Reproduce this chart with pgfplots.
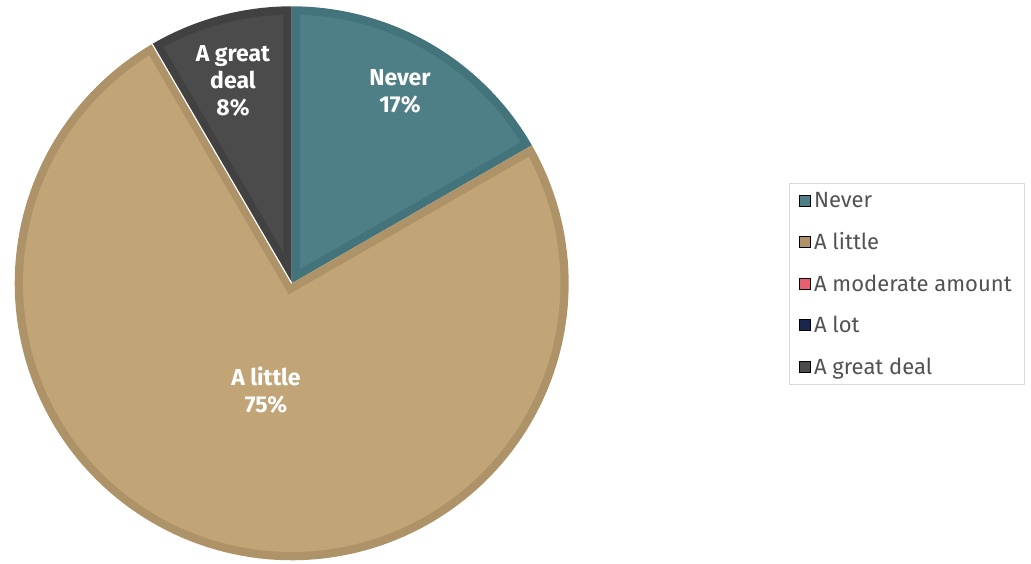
\documentclass[border=0pt]{standalone}
\usepackage{pgfplots}
\pgfplotsset{compat=1.18}
\usepackage{pgfplotstable}
\usepgfplotslibrary{polar}
\usepackage{fontspec}
\setmainfont{Fira Sans}
\definecolor{neverF}{HTML}{4E7F87}
\definecolor{neverB}{HTML}{44747B}
\definecolor{littleF}{HTML}{C1A577}
\definecolor{littleB}{HTML}{AD9367}
\definecolor{modF}{HTML}{E8606F}
\definecolor{lotF}{HTML}{1A2550}
\definecolor{greatF}{HTML}{4B4B4B}
\definecolor{greatB}{HTML}{414141}
\definecolor{legframe}{HTML}{D9D9D9}

\pgfplotstableread{
value
16.7
74.9
0
0
8.4
}\piedata

\pgfplotstablegetelem{0}{value}\of\piedata \let\vA\pgfplotsretval
\pgfplotstablegetelem{1}{value}\of\piedata \let\vB\pgfplotsretval
\pgfplotstablegetelem{2}{value}\of\piedata \let\vC\pgfplotsretval
\pgfplotstablegetelem{3}{value}\of\piedata \let\vD\pgfplotsretval
\pgfplotstablegetelem{4}{value}\of\piedata \let\vE\pgfplotsretval

\pgfmathsetmacro\aS{90}
\pgfmathsetmacro\aA{90-3.6*\vA}
\pgfmathsetmacro\aB{\aA-3.6*\vB}
\pgfmathsetmacro\aD{\aB-3.6*(\vC+\vD)}
\pgfmathsetmacro\aE{\aD-3.6*\vE}
\def\bw{0.03}

\newcommand{\pieslice}[4]{%
  \pgfmathsetmacro\ps{#1}%
  \pgfmathsetmacro\pe{#2}%
  \pgfmathsetmacro\pmid{(\ps+\pe)/2}%
  \pgfmathsetmacro\phalf{(\ps-\pe)/2}%
  \pgfmathsetmacro\pt{\bw/sin(\phalf)}%
  \pgfmathsetmacro\pdel{asin(\bw/(1-\bw))}%
  \pgfmathsetmacro\pa{\pe+\pdel}%
  \pgfmathsetmacro\pb{\ps-\pdel}%
  \pgfmathsetmacro\pr{1-\bw}%
  \edef\doslice{%
    \noexpand\addplot[forget plot,fill=#4,draw=none,domain=\pe:\ps,samples=150] {1} -- (axis cs:0,0) -- cycle;
    \noexpand\addplot[forget plot,fill=#3,draw=none,domain=\pa:\pb,samples=150] {\pr} -- (axis cs:\pmid,\pt) -- cycle;
  }\doslice
}

\begin{document}
\begin{tikzpicture}
\useasboundingbox (0,0) rectangle (1031pt,564pt);
\begin{polaraxis}[
  at={(291.7pt,280.7pt)}, anchor=origin,
  scale only axis, width=554pt, height=554pt,
  hide axis, clip=false,
  ymin=0, ymax=1,
  legend cell align=left,
  legend image code/.code={\fill[#1] (0pt,-5.5pt) rectangle (11pt,5.5pt);},
  legend style={at={(1.3977,0.4987)}, anchor=west,
    draw=legframe, line width=1pt,
    font=\fontsize{22}{25}\selectfont, text=black!68,
    row sep=19.5pt, inner xsep=9pt, inner ysep=7pt,
    nodes={inner xsep=3.5pt}},
]
\pieslice{\aS}{\aA}{neverF}{neverB}
\pieslice{\aA}{\aB}{littleF}{littleB}
\pieslice{\aD}{\aE}{greatF}{greatB}
\addplot[forget plot, white, line width=1.2pt] coordinates {(0,0) (\aD,1)};

\node[text=white, font=\bfseries\fontsize{23}{27}\selectfont, align=center] at (axis cs:60.5,0.794) {Never\\17\%};
\node[text=white, font=\bfseries\fontsize{23}{27}\selectfont, align=center] at (axis cs:256.5,0.398) {A little\\75\%};
\node[text=white, font=\bfseries\fontsize{23}{27}\selectfont, align=center] at (axis cs:106.2,0.76) {A great\\deal\\8\%};

\addlegendimage{fill=neverF}\addlegendentry{Never}
\addlegendimage{fill=littleB}\addlegendentry{A little}
\addlegendimage{fill=modF}\addlegendentry{A moderate amount}
\addlegendimage{fill=lotF}\addlegendentry{A lot}
\addlegendimage{fill=greatF}\addlegendentry{A great deal}
\end{polaraxis}
\end{tikzpicture}
\end{document}
